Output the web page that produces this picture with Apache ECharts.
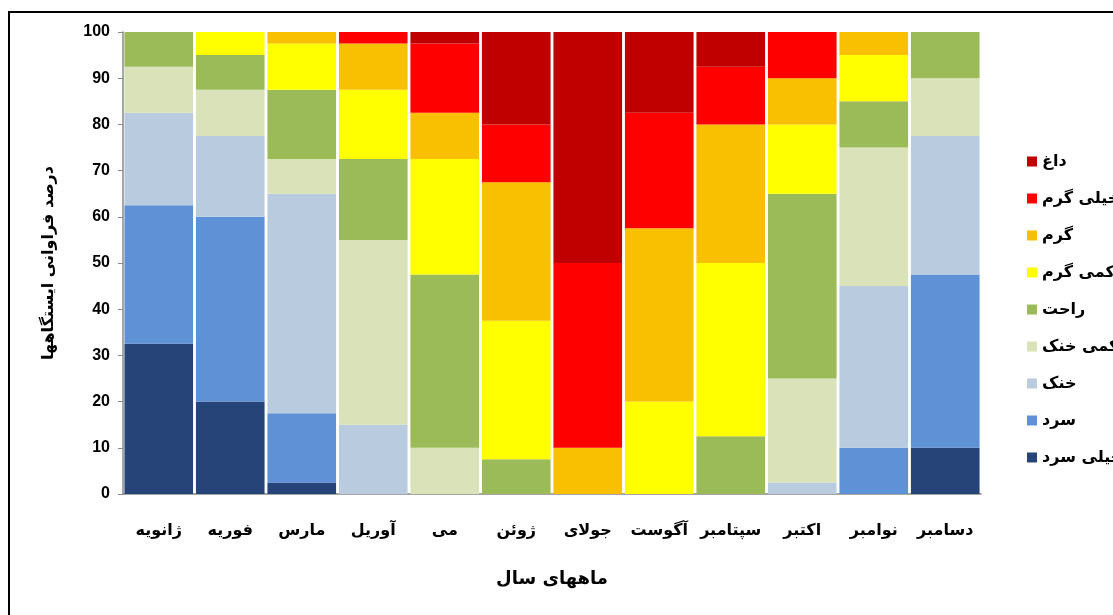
<!DOCTYPE html>
<html><head><meta charset="utf-8">
<script src="https://cdn.jsdelivr.net/npm/echarts@6/dist/echarts.min.js"></script>
<style>html,body{margin:0;padding:0;background:#fff}#c{width:1113px;height:615px}</style>
</head><body><div id="c"></div>
<script>
var months = ['ژانویه','فوریه','مارس','آوریل','می','ژوئن','جولای','آگوست','سپتامبر','اکتبر','نوامبر','دسامبر'];
var classNames = ['خیلی سرد','سرد','خنک','کمی خنک','راحت','کمی گرم','گرم','خیلی گرم','داغ'];
var yTicks = [0,10,20,30,40,50,60,70,80,90,100];
var veryCold     = [32.5, 20,   2.5, 0,    0,    0,    0,  0,    0,    0,    0,    10];
var cold         = [30,   40,   15,  0,    0,    0,    0,  0,    0,    0,    10,   37.5];
var cool         = [20,   17.5, 47.5,15,   0,    0,    0,  0,    0,    2.5,  35,   30];
var slightlyCool = [10,   10,   7.5, 40,   10,   0,    0,  0,    0,    22.5, 30,   12.5];
var comfortable  = [7.5,  7.5,  15,  17.5, 37.5, 7.5,  0,  0,    12.5, 40,   10,   10];
var slightlyWarm = [0,    5,    10,  15,   25,   30,   0,  20,   37.5, 15,   10,   0];
var warm         = [0,    0,    2.5, 10,   10,   30,   10, 37.5, 30,   10,   5,    0];
var veryWarm     = [0,    0,    0,   2.5,  15,   12.5, 40, 25,   12.5, 10,   0,    0];
var hot          = [0,    0,    0,   0,    2.5,  20,   50, 17.5, 7.5,  0,    0,    0];

var seriesData = [veryCold, cold, cool, slightlyCool, comfortable, slightlyWarm, warm, veryWarm, hot];
var colors = ['#264478','#5E91D6','#B9CCDF','#D9E2B8','#9BBB59','#FFFF00','#F8C000','#FF0000','#C00000'];

var arFont = 'DejaVu Sans';
var series = seriesData.map(function(d, i){
  return {
    name: classNames[i], type: 'bar', stack: 'all', data: d,
    barCategoryGap: '4%',
    itemStyle: {color: colors[i]},
    emphasis: {disabled: true}
  };
});

var chart = echarts.init(document.getElementById('c'), null, {renderer: 'canvas'});
chart.setOption({
  animation: false,
  backgroundColor: '#fff',
  color: colors,
  grid: {left: 123, top: 32, right: 132, bottom: 121},
  graphic: [{
    type: 'rect', shape: {x: 9, y: 12, width: 1120, height: 620},
    style: {fill: null, stroke: '#000', lineWidth: 2}, silent: true, z: -1
  }],
  legend: {
    orient: 'vertical', left: 1022, top: 146,
    data: classNames.slice().reverse(),
    itemWidth: 10, itemHeight: 10, itemGap: 16,
    icon: 'rect',
    textStyle: {fontFamily: arFont, fontWeight: 'bold', fontSize: 16, color: '#000', lineHeight: 21}
  },
  xAxis: {
    type: 'category', data: months,
    name: 'ماههای سال', nameLocation: 'middle', nameGap: 76,
    nameTextStyle: {fontFamily: arFont, fontWeight: 'bold', fontSize: 18, color: '#000'},
    axisLine: {lineStyle: {color: '#888', width: 1.5}},
    axisTick: {show: false},
    axisLabel: {fontFamily: arFont, fontWeight: 'bold', fontSize: 16, color: '#000', margin: 29, interval: 0}
  },
  yAxis: {
    type: 'value', min: 0, max: 100, interval: 10,
    name: 'درصد فراوانی ایستگاهها', nameLocation: 'middle', nameGap: 66, nameRotate: 90,
    nameTextStyle: {fontFamily: arFont, fontWeight: 'bold', fontSize: 16, color: '#000'},
    axisLine: {show: true, lineStyle: {color: '#888', width: 1.5}},
    axisTick: {show: true, length: 5, lineStyle: {color: '#888'}},
    splitLine: {show: false},
    axisLabel: {
      fontFamily: 'Liberation Sans', fontWeight: 'bold', fontSize: 16, color: '#000', margin: 13,
      formatter: function(v){ return yTicks.indexOf(v) >= 0 ? String(v) : ''; }
    }
  },
  series: series
});
</script></body></html>
